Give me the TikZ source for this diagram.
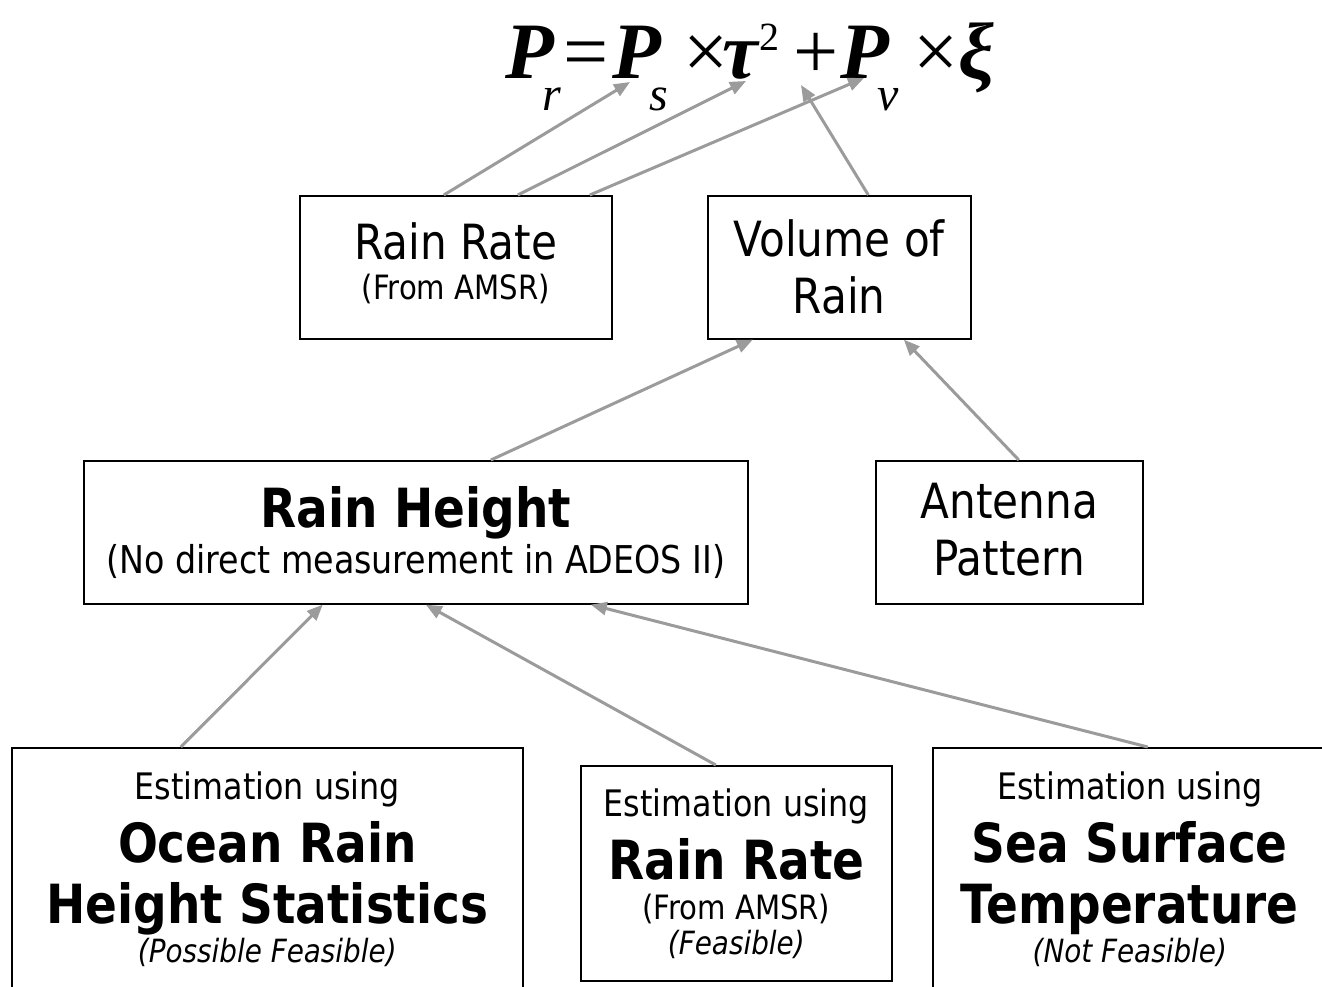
\documentclass[tikz,border=0pt]{standalone}
\usepackage{fontspec}
\setmainfont{DejaVu Sans}[FakeStretch=0.87]
\newfontfamily\eqfont{Liberation Serif}
\usetikzlibrary{positioning, arrows.meta}
\definecolor{linkgray}{RGB}{155,155,155}
\newcommand{\txtbig}{\fontsize{48.5}{48.5}\selectfont}
\newcommand{\txtsub}{\fontsize{36.5}{36.5}\selectfont}
\newcommand{\txtsubwide}{\fontsize{38.3}{38.3}\selectfont}
\newcommand{\txthead}{\bfseries\fontsize{54}{54}\selectfont}
\newcommand{\txtsmall}{\fontsize{33.5}{33.5}\selectfont}
\newcommand{\txtnote}{\itshape\fontsize{32}{32}\selectfont}
\newcommand{\tightlines}{\fontsize{10}{0}\selectfont\lineskiplimit-1000pt\relax}
\newcommand{\eqvar}[2]{\textbf{\textit{#1}}\kern-0.15em\raisebox{-0.4em}{\fontsize{48}{48}\selectfont\textit{#2}}}
\newcommand{\eqslot}[2]{\makebox[#1][l]{#2}}

\begin{document}
\begin{tikzpicture}[
    x=1pt, y=-1pt,
    box/.style={draw, line width=1.6pt, inner sep=0pt, anchor=north west, align=center,
      font=\tightlines},
    link/.style={draw=linkgray, line width=3pt, -{Triangle[length=16pt, width=13pt]}}
  ]
  \clip (0,0) rectangle (1322,986);

  % the equation and the points the arrows go to
  \node[anchor=base west, inner sep=0pt, font=\eqfont\fontsize{80}{80}\selectfont] (eq) at (505,78)
    {\eqslot{58pt}{\eqvar{P}{r}}\eqslot{49pt}{=}\eqslot{71.5pt}{\eqvar{P}{s}}\eqslot{38.5pt}{×}%
     \eqslot{37pt}{\textbf{\textit{τ}}}\eqslot{34.5pt}{\raisebox{0.35em}{\fontsize{40}{40}\selectfont 2}}%
     \eqslot{46.5pt}{+}\eqslot{73.5pt}{\eqvar{P}{v}}\eqslot{44.5pt}{×}\textbf{\textit{ξ}}};
  \coordinate (tipPs) at (630,82);
  \coordinate (tipTau) at (746,81);
  \coordinate (tipPv) at (864,78);
  \coordinate (tipPlus) at (801,85);

  % boxes
  \node[box, minimum width=312pt, minimum height=143pt] (rate) at (299,195)
    {{\txtbig Rain Rate}\\[40pt]{\txtsmall (From AMSR)\rule[-12pt]{0pt}{0pt}}};
  \node[box, minimum width=263pt, minimum height=143pt] (volume) at (707,195)
    {{\txtbig Volume of}\\[57pt]{\txtbig Rain}};
  \node[box, minimum width=664pt, minimum height=143pt] (height) at (83,460)
    {{\txthead Rain Height}\\[46pt]{\txtsubwide (No direct measurement in ADEOS II)}};
  \node[box, minimum width=267pt, minimum height=143pt] (antenna) at (875,460)
    {{\txtbig Antenna}\\[57pt]{\txtbig Pattern\rule[-5pt]{0pt}{0pt}}};
  \node[box, minimum width=511pt, minimum height=243pt] (ocean) at (11,747)
    {{\txtsub Estimation using}\\[63pt]{\txthead Ocean Rain}\\[61pt]{\txthead Height Statistics}\\[39pt]{\txtnote (Possible Feasible)}};
  \node[box, minimum width=311pt, minimum height=215pt] (ratefeas) at (580,765)
    {{\txtsub Estimation using}\\[63pt]{\txthead Rain Rate}\\[40pt]{\txtsmall (From AMSR)}\\[35pt]{\txtnote (Feasible)}};
  \node[box, minimum width=394pt, minimum height=243pt] (sst) at (932,747)
    {{\txtsub Estimation using}\\[63pt]{\txthead Sea Surface}\\[61pt]{\txthead Temperature}\\[39pt]{\txtnote (Not Feasible)}};

  % arrows
  \draw[link] ([xshift=-12pt]rate.north) -- (tipPs);
  \draw[link] ([xshift=62pt]rate.north) -- (tipTau);
  \draw[link] ([xshift=134pt]rate.north) -- (tipPv);
  \draw[link] ([xshift=29pt]volume.north) -- (tipPlus);
  \draw[link] ([xshift=75pt]height.north) -- ([xshift=-86.5pt]volume.south);
  \draw[link] ([xshift=9.5pt]antenna.north) -- ([xshift=64.5pt]volume.south);
  \draw[link] ([xshift=-86.5pt]ocean.north) -- ([xshift=-93pt]height.south);
  \draw[link] ([xshift=-20.5pt]ratefeas.north) -- ([xshift=10pt]height.south);
  \draw[link] ([xshift=18pt]sst.north) -- ([xshift=175pt]height.south);
\end{tikzpicture}
\end{document}
